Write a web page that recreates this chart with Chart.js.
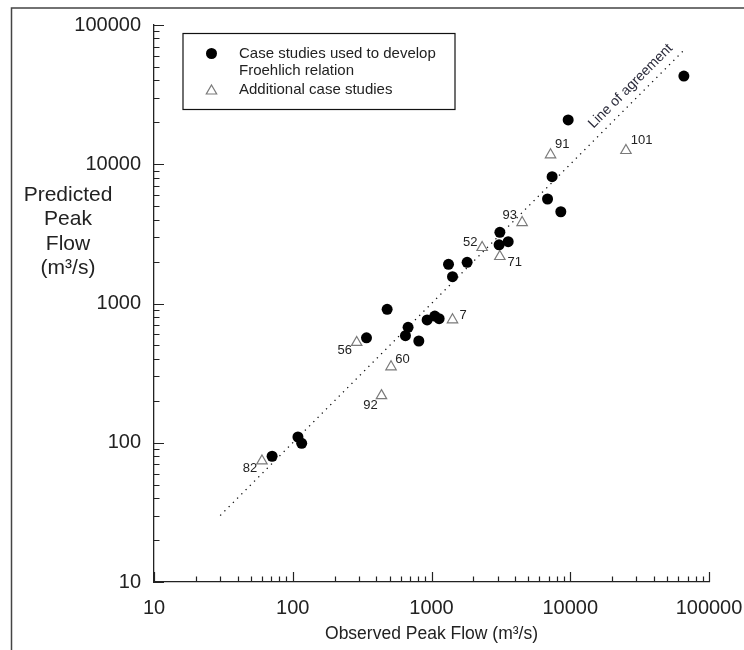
<!DOCTYPE html>
<html><head><meta charset="utf-8">
<script src="https://cdn.jsdelivr.net/npm/chart.js@4/dist/chart.umd.min.js"></script>
<style>html,body{margin:0;padding:0;background:#fff;}canvas{display:block;}</style>
</head><body>
<canvas id="c" width="744" height="650"></canvas>
<script>
// ---- data ----
const circleObserved  = [71, 109, 116, 340, 479, 678, 649, 810, 930, 1056, 1135, 1326, 1417, 1806, 3070, 3110, 3570, 6860, 7400, 8550, 9660, 65900];
const circlePredicted = [80, 110, 99, 567, 908, 675, 587, 538, 762, 813, 778, 1912, 1558, 1977, 2640, 3245, 2780, 5630, 8140, 4560, 20800, 43000];
const triangleIds       = ['82', '56', '60', '92', '7', '52', '71', '93', '91', '101'];
const triangleObserved  = [60, 289, 511, 436, 1417, 2317, 3108, 4500, 7210, 25200];
const trianglePredicted = [74, 525, 351, 218, 764, 2525, 2175, 3815, 11690, 12555];
const agreementRange = [30, 65000];
const xTickLabels = [10, 100, 1000, 10000, 100000];
const yTickLabels = [10, 100, 1000, 10000, 100000];
const legendLabels = [['Case studies used to develop', 'Froehlich relation'], ['Additional case studies']];
const yTitleLines = ['Predicted', 'Peak', 'Flow', '(m\u00b3/s)'];
const xTitle = 'Observed Peak Flow (m\u00b3/s)';
const agreementText = 'Line of agreement';

// ---- styles ----
const FONT = "'Liberation Sans', Arial, sans-serif";
const TXT = '#222';
const TRI_COLOR = '#7a7a7a';
const labelOffsets = {'82':[-12,7], '56':[-12,7.5], '60':[11.5,-7.5], '92':[-11,9.5], '7':[10.5,-4.8],
  '52':[-12,-4.8], '71':[15,5.8], '93':[-12.3,-7.5], '91':[11.8,-10.8], '101':[15.7,-9.8]};

const circles = circleObserved.map((x, i) => ({x, y: circlePredicted[i]}));
const triangles = triangleObserved.map((x, i) => ({x, y: trianglePredicted[i], id: triangleIds[i]}));
const agreement = agreementRange.map(v => ({x: v, y: v}));

const isDecade = v => Math.abs(Math.log10(v) - Math.round(Math.log10(v))) < 1e-9;

const decorPlugin = {
  id: 'decor',
  beforeDraw(chart) {
    const ctx = chart.ctx;
    ctx.save();
    ctx.strokeStyle = '#444'; ctx.lineWidth = 1.5;
    ctx.beginPath();
    ctx.moveTo(744, 8); ctx.lineTo(11.5, 8); ctx.lineTo(11.5, 650);
    ctx.stroke();
    ctx.restore();
  },
  afterDraw(chart) {
    const ctx = chart.ctx;
    const xs = chart.scales.x, ys = chart.scales.y;
    const ca = chart.chartArea;
    ctx.save();
    // inward ticks
    ctx.strokeStyle = '#222'; ctx.lineWidth = 1.2;
    ctx.beginPath();
    for (let d = 10; d <= 100000; d *= 10) {
      for (let m = 1; m <= (d === 100000 ? 1 : 9); m++) {
        const v = m * d;
        const len = m === 1 ? 10 : 5.5;
        const px = Math.round(xs.getPixelForValue(v)) + 0.5;
        ctx.moveTo(px, ca.bottom); ctx.lineTo(px, ca.bottom - len);
        const py = Math.round(ys.getPixelForValue(v)) + 0.5;
        ctx.moveTo(ca.left, py); ctx.lineTo(ca.left + len, py);
      }
    }
    ctx.stroke();

    // y title (horizontal, multi-line)
    ctx.fillStyle = TXT;
    ctx.font = '21px ' + FONT;
    ctx.textAlign = 'center'; ctx.textBaseline = 'middle';
    yTitleLines.forEach((t, i) => ctx.fillText(t, 68, 195 + i * 24.4));

    // point labels
    ctx.font = '13px ' + FONT;
    const meta = chart.getDatasetMeta(1);
    meta.data.forEach((el, i) => {
      const id = triangleIds[i];
      const o = labelOffsets[id];
      ctx.fillText(id, el.x + o[0], el.y + o[1]);
    });

    // line of agreement text
    const x0 = xs.getPixelForValue(agreementRange[0]), y0 = ys.getPixelForValue(agreementRange[0]);
    const x1 = xs.getPixelForValue(agreementRange[1]), y1 = ys.getPixelForValue(agreementRange[1]);
    const ang = Math.atan2(y1 - y0, x1 - x0);
    const v = 31500;
    ctx.translate(xs.getPixelForValue(v), ys.getPixelForValue(v));
    ctx.rotate(ang);
    ctx.font = '14px ' + FONT;
    ctx.fillStyle = '#2a2a3a';
    ctx.textAlign = 'center'; ctx.textBaseline = 'alphabetic';
    ctx.fillText(agreementText, 0, -8.5);
    ctx.setTransform(1, 0, 0, 1, 0, 0);

    // legend
    const lx = ca.left + 29, ly = 33.5, lw = 272, lh = 76;
    ctx.strokeStyle = '#111'; ctx.lineWidth = 1.2;
    ctx.fillStyle = '#fff';
    ctx.fillRect(lx, ly, lw, lh);
    ctx.strokeRect(lx, ly, lw, lh);
    ctx.fillStyle = '#000';
    ctx.beginPath(); ctx.arc(lx + 28.5, ly + 20, 5.5, 0, Math.PI * 2); ctx.fill();
    const tr = 6, tcx = lx + 28.5, tcy = ly + 57.5;
    ctx.strokeStyle = TRI_COLOR; ctx.lineWidth = 1.2;
    ctx.beginPath();
    for (let k = 0; k < 3; k++) {
      const a = k * 2 * Math.PI / 3;
      const px = tcx + Math.sin(a) * tr, py = tcy - Math.cos(a) * tr;
      k ? ctx.lineTo(px, py) : ctx.moveTo(px, py);
    }
    ctx.closePath(); ctx.stroke();
    ctx.fillStyle = TXT;
    ctx.font = '15px ' + FONT;
    ctx.textAlign = 'left'; ctx.textBaseline = 'middle';
    ctx.fillText(legendLabels[0][0], lx + 56, ly + 20);
    ctx.fillText(legendLabels[0][1], lx + 56, ly + 37.5);
    ctx.fillText(legendLabels[1][0], lx + 56, ly + 56);
    ctx.restore();
  }
};

new Chart(document.getElementById('c'), {
  data: {
    datasets: [
      {type: 'scatter', data: circles, pointStyle: 'circle', pointRadius: 5.5, backgroundColor: '#000', borderWidth: 0, order: 1},
      {type: 'scatter', data: triangles, pointStyle: 'triangle', pointRadius: 6, backgroundColor: 'rgba(255,255,255,0)', borderColor: TRI_COLOR, borderWidth: 1.2, order: 2},
      {type: 'line', data: agreement, borderColor: '#111', borderWidth: 1.3, borderDash: [1.3, 4.7], pointRadius: 0, fill: false, order: 3}
    ]
  },
  options: {
    responsive: false, devicePixelRatio: 1, animation: false,
    layout: {padding: {top: 25, right: 35, left: 0, bottom: 0}},
    plugins: {legend: {display: false}, tooltip: {enabled: false}},
    scales: {
      x: {
        type: 'logarithmic', min: 10, max: 100000, position: 'bottom',
        grid: {display: false}, border: {display: true, color: '#222', width: 1.3},
        ticks: {autoSkip: false, maxRotation: 0, padding: 6, color: TXT, font: {family: FONT, size: 20},
          callback: v => (isDecade(v) && xTickLabels.includes(Math.round(v))) ? String(Math.round(v)) : ''},
        title: {display: true, text: xTitle, color: TXT, font: {family: FONT, size: 17.5}, padding: {top: 0, bottom: 5}},
        afterFit(s) { s.height = 68; s.paddingLeft = 0; s.paddingRight = 0; }
      },
      y: {
        type: 'logarithmic', min: 10, max: 100000, position: 'left',
        grid: {display: false}, border: {display: true, color: '#222', width: 1.3},
        ticks: {autoSkip: false, padding: 5, color: TXT, font: {family: FONT, size: 20},
          callback: v => (isDecade(v) && yTickLabels.includes(Math.round(v))) ? String(Math.round(v)) : ''},
        afterFit(s) { s.width = 154; s.paddingTop = 0; s.paddingBottom = 0; }
      }
    }
  },
  plugins: [decorPlugin]
});
</script>
</body></html>
